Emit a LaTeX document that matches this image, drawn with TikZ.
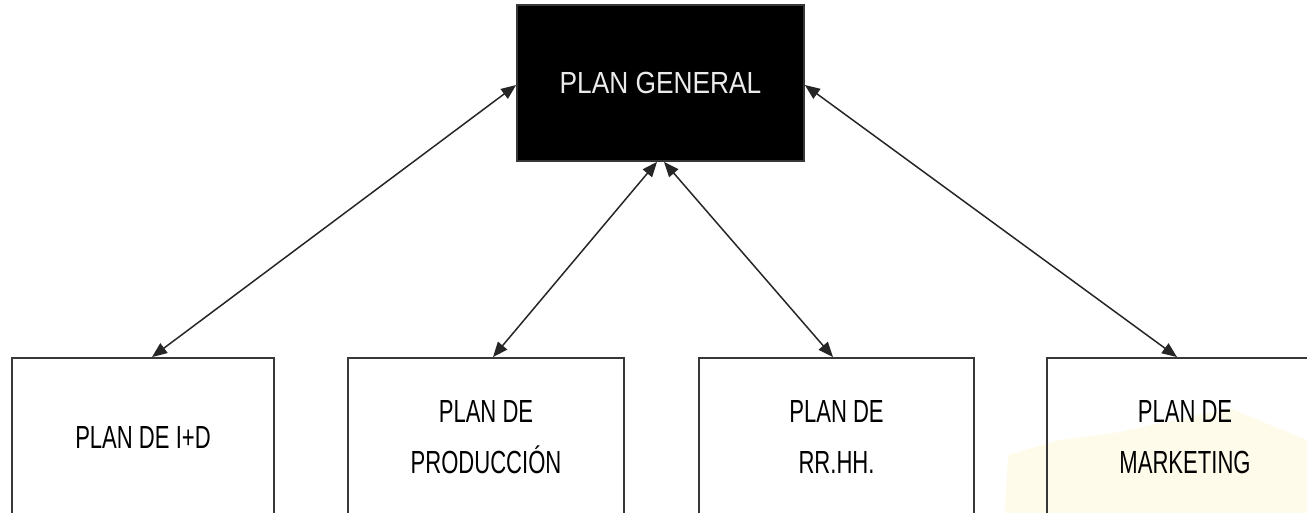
\documentclass[tikz,border=0pt]{standalone}
\usepackage{fontspec}
\setmainfont{Liberation Sans}
\newfontfamily\narrowfont[FakeStretch=0.69]{Liberation Sans}
\newfontfamily\widefont[FakeStretch=0.86]{Liberation Sans}
\usetikzlibrary{arrows.meta,calc}
\definecolor{edgegray}{RGB}{55,55,55}
\definecolor{wmark}{RGB}{255,251,234}
\tikzset{
  planbox/.style={draw=edgegray, line width=1.1pt, fill=white, minimum height=3.16cm,
    align=center, inner sep=0pt, font=\narrowfont\fontsize{18.2}{28.9}\selectfont},
  genbox/.style={draw=edgegray, line width=1pt, fill=black, text={rgb,255:red,235;green,235;blue,235},
    minimum width=5.74cm, minimum height=3.12cm, inner sep=0pt,
    font=\widefont\fontsize{17.4}{20}\selectfont},
  link/.style={draw=black!85, line width=0.85pt,
    {Triangle[length=0.3cm,width=0.24cm]}-{Triangle[length=0.3cm,width=0.24cm]}}
}
\begin{document}
\begin{tikzpicture}[x=0.02cm,y=-0.02cm]
\useasboundingbox (0,0) rectangle (1307,513);
\fill[white] (0,0) rectangle (1307,513);
% faint watermark
\fill[wmark] (1005,513) -- (1008,455) -- (1060,440) -- (1120,432) -- (1175,420) -- (1230,408) -- (1270,425) -- (1307,440) -- (1307,513) -- cycle;
\node[genbox] (gen) at (660.5,83) {PLAN GENERAL};
\node[planbox, minimum width=5.24cm] (id) at (143,437) {PLAN DE I+D};
\node[planbox, minimum width=5.52cm] (prod) at (486,437) {PLAN DE\\PRODUCCIÓN};
\node[planbox, minimum width=5.50cm] (rrhh) at (836.5,437) {PLAN DE\\RR.HH.};
\fill[wmark] (1049,513) -- (1049,452) -- (1100,440) -- (1170,428) -- (1230,412) -- (1270,428) -- (1305,440) -- (1305,513) -- cycle;
\node[planbox, minimum width=5.52cm, fill=none] (mkt) at (1185,437) {PLAN DE\\MARKETING};
\path[link] ([xshift=0.18cm]id.north) -- ([yshift=-0.04cm]gen.west);
\path[link] ([xshift=0.14cm]prod.north) -- ([xshift=-0.07cm]gen.south);
\path[link] ([xshift=-0.07cm]rrhh.north) -- ([xshift=0.07cm]gen.south);
\path[link] ([xshift=-0.16cm]mkt.north) -- ([yshift=-0.04cm]gen.east);
\end{tikzpicture}
\end{document}
